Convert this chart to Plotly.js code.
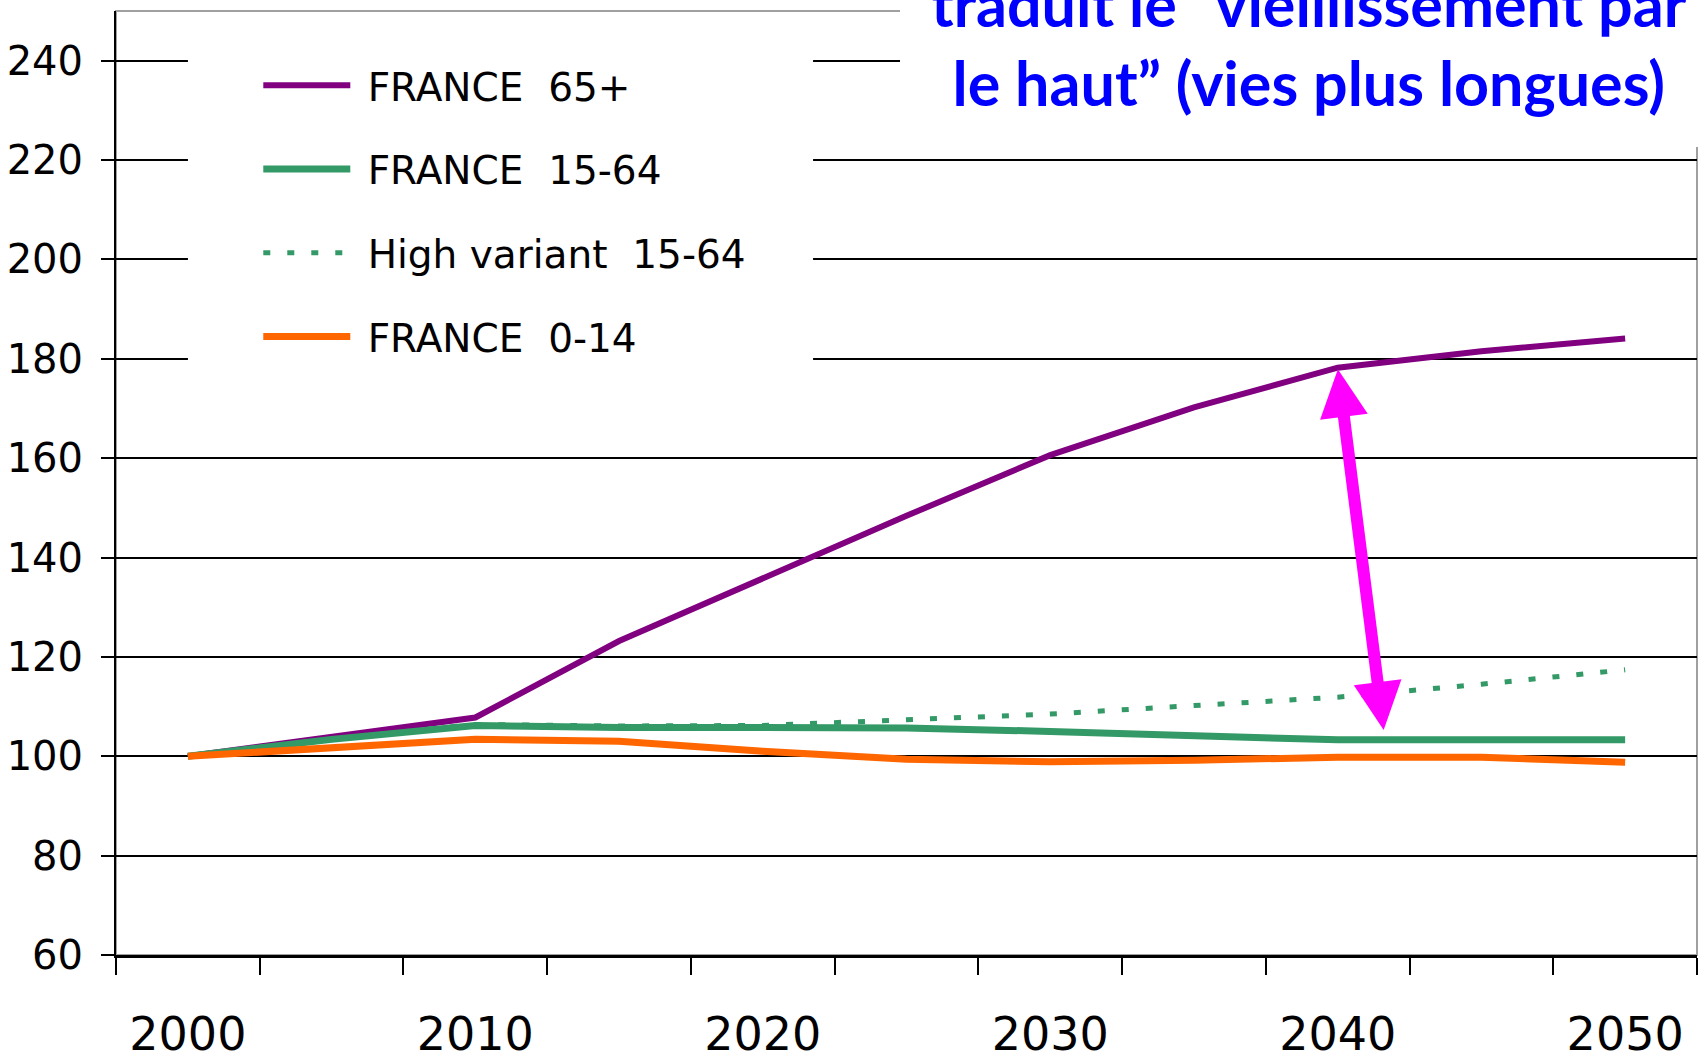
<!DOCTYPE html>
<html>
<head>
<meta charset="utf-8">
<script src="https://cdn.plot.ly/plotly-3.0.1.min.js"></script>
<style>html,body{margin:0;padding:0;background:#fff;}#chart{width:1705px;height:1061px;}</style>
</head>
<body>
<div id="chart"></div>
<script>
// ---- data ----
const years = [2000, 2005, 2010, 2015, 2020, 2025, 2030, 2035, 2040, 2045, 2050];
const france65 = [100, 103.9, 107.8, 123.2, 135.8, 148.4, 160.6, 170.2, 178.2, 181.5, 184.1];
const france1564 = [100, 103.4, 106.2, 105.8, 105.8, 105.7, 105.0, 104.2, 103.3, 103.3, 103.3];
const high1564 = [100, 103.4, 106.4, 106.1, 106.2, 107.3, 108.5, 110.2, 111.9, 114.5, 117.4];
const france014 = [100, 101.8, 103.4, 103.0, 101.0, 99.4, 98.9, 99.2, 99.8, 99.8, 98.8];
const seriesNames = ['\u00A0FRANCE\u00A0 65+', '\u00A0FRANCE\u00A0 15-64', '\u00A0High variant\u00A0 15-64', '\u00A0FRANCE\u00A0 0-14'];
const xTickVals = [2000, 2010, 2020, 2030, 2040, 2050];
const xTickText = ['2000', '2010', '2020', '2030', '2040', '2050'];
const yTickVals = [60, 80, 100, 120, 140, 160, 180, 200, 220, 240];
const noteLines = ['traduit le \u201Cvieillissement par', 'le haut\u201D (vies plus longues)'];

const FONT = '"Comic Sans MS", "DejaVu Sans", sans-serif';

const traces = [
  {x: years, y: france65, name: seriesNames[0], legendgroup: 'a', mode: 'lines',
   line: {color: '#800080', width: 6}},
  {x: years, y: france1564, name: seriesNames[1], legendgroup: 'b', mode: 'lines',
   line: {color: '#339966', width: 7}},
  {x: years, y: high1564, name: seriesNames[2], legendgroup: 'c', mode: 'lines',
   line: {color: '#339966', width: 5, dash: '7px,17px'}},
  {x: years, y: france014, name: seriesNames[3], legendgroup: 'd', mode: 'lines',
   line: {color: '#FF6600', width: 7}}
];

const layout = {
  width: 1705, height: 1061,
  margin: {l: 116, r: 8, t: 11, b: 106, pad: 0},
  paper_bgcolor: '#ffffff', plot_bgcolor: '#ffffff',
  font: {family: FONT, color: '#000000'},
  showlegend: true,
  legend: {
    x: 0.09, xanchor: 'left', y: 0.955, yanchor: 'top',
    bgcolor: 'rgba(0,0,0,0)', borderwidth: 0,
    font: {family: FONT, size: 39, color: '#000000'},
    tracegroupgap: 30, itemwidth: 87
  },
  xaxis: {
    type: 'linear', range: [1997.5, 2052.5],
    tickmode: 'array', tickvals: xTickVals, ticktext: xTickText,
    ticks: 'outside', ticklen: 37, tickcolor: 'rgba(0,0,0,0)',
    minor: {tick0: 1997.5, dtick: 5, ticks: 'outside', ticklen: 17, tickwidth: 2, tickcolor: '#000000', showgrid: false},
    tickfont: {family: FONT, size: 46, color: '#000000'},
    showgrid: false, zeroline: false,
    showline: true, linecolor: '#000000', linewidth: 3,
    fixedrange: true
  },
  yaxis: {
    range: [60, 250],
    tickmode: 'array', tickvals: yTickVals,
    ticks: 'outside', ticklen: 13, tickwidth: 2, tickcolor: '#000000',
    ticklabelstandoff: 10,
    tickfont: {family: FONT, size: 40, color: '#000000'},
    showgrid: true, gridcolor: '#000000', gridwidth: 2,
    zeroline: false,
    showline: true, linecolor: '#000000', linewidth: 2,
    fixedrange: true
  },
  shapes: [
    {type: 'rect', xref: 'paper', yref: 'paper', x0: 0, x1: 1, y0: 0, y1: 1,
     line: {color: '#A0A0A0', width: 2}, fillcolor: 'rgba(0,0,0,0)', layer: 'below'},
    {type: 'rect', xref: 'paper', yref: 'paper', x0: 0.0455, x1: 0.4409, y0: 0.618, y1: 0.988,
     line: {width: 0}, fillcolor: '#ffffff', layer: 'above'},
    {type: 'rect', xref: 'paper', yref: 'paper', x0: 0.4959, x1: 1.02, y0: 0.856, y1: 1.05,
     line: {width: 0}, fillcolor: '#ffffff', layer: 'above'}
  ],
  annotations: [
    {xref: 'paper', yref: 'paper', x: 0.7546, y: 0.884, xanchor: 'center', yanchor: 'bottom',
     text: noteLines.join('<br>'), showarrow: false, align: 'center',
     font: {family: 'Lato, "Open Sans", sans-serif', size: 61, color: '#0000FF', weight: 700}},
    {xref: 'x', yref: 'y', axref: 'x', ayref: 'y',
     x: 2041.6, y: 105.3, ax: 2040, ay: 178.2, text: '',
     showarrow: true, arrowhead: 2, startarrowhead: 2, arrowside: 'end+start',
     arrowsize: 0.8, startarrowsize: 0.8, arrowwidth: 12, arrowcolor: '#FF00FF',
     standoff: 0, startstandoff: 0}
  ]
};

Plotly.newPlot('chart', traces, layout, {displayModeBar: false, staticPlot: true});
</script>
</body>
</html>
